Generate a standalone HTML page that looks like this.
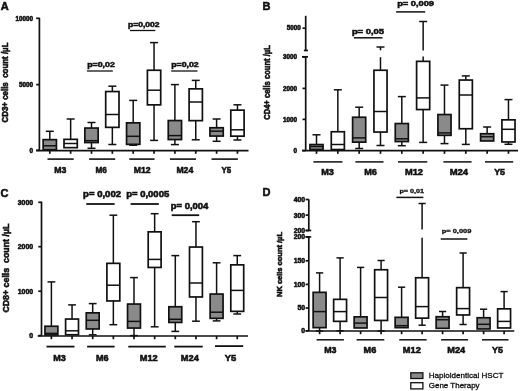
<!DOCTYPE html>
<html><head><meta charset="utf-8"><style>
html,body{margin:0;padding:0;background:#fff;width:520px;height:391px;overflow:hidden}
svg{display:block;will-change:transform}
text{font-family:"Liberation Sans",sans-serif}
text[font-weight=bold]{stroke:#111111;stroke-width:0.55px}
text[font-weight=normal]{stroke:#111111;stroke-width:0.3px}
</style></head><body>
<svg width="520" height="391" viewBox="0 0 520 391" shape-rendering="geometricPrecision">
<rect width="520" height="391" fill="#fff"/>
<line x1="39.40" y1="17.80" x2="39.40" y2="150.30" stroke="#111111" stroke-width="1.7"/>
<line x1="36.20" y1="18.30" x2="39.40" y2="18.30" stroke="#111111" stroke-width="1.7"/>
<text x="33.00" y="20.57" font-size="6.3" font-weight="bold" text-anchor="end" fill="#111111" xml:space="preserve">10000</text>
<line x1="36.20" y1="84.60" x2="39.40" y2="84.60" stroke="#111111" stroke-width="1.7"/>
<text x="33.00" y="86.87" font-size="6.3" font-weight="bold" text-anchor="end" fill="#111111" xml:space="preserve">5000</text>
<line x1="36.20" y1="150.30" x2="39.40" y2="150.30" stroke="#111111" stroke-width="1.7"/>
<text x="33.00" y="152.57" font-size="6.3" font-weight="bold" text-anchor="end" fill="#111111" xml:space="preserve">0</text>
<line x1="36.20" y1="150.60" x2="248.50" y2="150.60" stroke="#111111" stroke-width="1.7"/>
<line x1="49.80" y1="150.60" x2="49.80" y2="153.80" stroke="#111111" stroke-width="1.7"/>
<line x1="70.65" y1="150.60" x2="70.65" y2="153.80" stroke="#111111" stroke-width="1.7"/>
<line x1="91.50" y1="150.60" x2="91.50" y2="153.80" stroke="#111111" stroke-width="1.7"/>
<line x1="112.35" y1="150.60" x2="112.35" y2="153.80" stroke="#111111" stroke-width="1.7"/>
<line x1="133.20" y1="150.60" x2="133.20" y2="153.80" stroke="#111111" stroke-width="1.7"/>
<line x1="154.05" y1="150.60" x2="154.05" y2="153.80" stroke="#111111" stroke-width="1.7"/>
<line x1="174.90" y1="150.60" x2="174.90" y2="153.80" stroke="#111111" stroke-width="1.7"/>
<line x1="195.75" y1="150.60" x2="195.75" y2="153.80" stroke="#111111" stroke-width="1.7"/>
<line x1="216.60" y1="150.60" x2="216.60" y2="153.80" stroke="#111111" stroke-width="1.7"/>
<line x1="237.45" y1="150.60" x2="237.45" y2="153.80" stroke="#111111" stroke-width="1.7"/>
<line x1="49.80" y1="131.30" x2="49.80" y2="139.65" stroke="#111111" stroke-width="1.5"/>
<line x1="45.80" y1="131.30" x2="53.80" y2="131.30" stroke="#111111" stroke-width="1.5"/>
<rect x="43.15" y="139.65" width="13.30" height="10.10" fill="#8a8a8a" stroke="#111111" stroke-width="1.7"/>
<line x1="43.15" y1="145.80" x2="56.45" y2="145.80" stroke="#111111" stroke-width="1.5"/>
<line x1="70.65" y1="119.00" x2="70.65" y2="139.35" stroke="#111111" stroke-width="1.5"/>
<line x1="66.65" y1="119.00" x2="74.65" y2="119.00" stroke="#111111" stroke-width="1.5"/>
<rect x="64.00" y="139.35" width="13.30" height="8.30" fill="#ffffff" stroke="#111111" stroke-width="1.7"/>
<line x1="64.00" y1="143.50" x2="77.30" y2="143.50" stroke="#111111" stroke-width="1.5"/>
<line x1="91.50" y1="122.50" x2="91.50" y2="128.05" stroke="#111111" stroke-width="1.5"/>
<line x1="87.50" y1="122.50" x2="95.50" y2="122.50" stroke="#111111" stroke-width="1.5"/>
<line x1="91.50" y1="142.55" x2="91.50" y2="148.30" stroke="#111111" stroke-width="1.5"/>
<line x1="87.50" y1="148.30" x2="95.50" y2="148.30" stroke="#111111" stroke-width="1.5"/>
<rect x="84.85" y="128.05" width="13.30" height="14.50" fill="#8a8a8a" stroke="#111111" stroke-width="1.7"/>
<line x1="84.85" y1="140.70" x2="98.15" y2="140.70" stroke="#111111" stroke-width="1.5"/>
<line x1="112.35" y1="86.20" x2="112.35" y2="91.55" stroke="#111111" stroke-width="1.5"/>
<line x1="108.35" y1="86.20" x2="116.35" y2="86.20" stroke="#111111" stroke-width="1.5"/>
<line x1="112.35" y1="127.35" x2="112.35" y2="144.50" stroke="#111111" stroke-width="1.5"/>
<line x1="108.35" y1="144.50" x2="116.35" y2="144.50" stroke="#111111" stroke-width="1.5"/>
<rect x="105.70" y="91.55" width="13.30" height="35.80" fill="#ffffff" stroke="#111111" stroke-width="1.7"/>
<line x1="105.70" y1="114.50" x2="119.00" y2="114.50" stroke="#111111" stroke-width="1.5"/>
<line x1="133.20" y1="100.40" x2="133.20" y2="122.85" stroke="#111111" stroke-width="1.5"/>
<line x1="129.20" y1="100.40" x2="137.20" y2="100.40" stroke="#111111" stroke-width="1.5"/>
<line x1="133.20" y1="144.35" x2="133.20" y2="145.20" stroke="#111111" stroke-width="1.5"/>
<line x1="129.20" y1="145.20" x2="137.20" y2="145.20" stroke="#111111" stroke-width="1.5"/>
<rect x="126.55" y="122.85" width="13.30" height="21.50" fill="#8a8a8a" stroke="#111111" stroke-width="1.7"/>
<line x1="126.55" y1="136.30" x2="139.85" y2="136.30" stroke="#111111" stroke-width="1.5"/>
<line x1="154.05" y1="42.60" x2="154.05" y2="70.25" stroke="#111111" stroke-width="1.5"/>
<line x1="150.05" y1="42.60" x2="158.05" y2="42.60" stroke="#111111" stroke-width="1.5"/>
<line x1="154.05" y1="104.85" x2="154.05" y2="140.40" stroke="#111111" stroke-width="1.5"/>
<line x1="150.05" y1="140.40" x2="158.05" y2="140.40" stroke="#111111" stroke-width="1.5"/>
<rect x="147.40" y="70.25" width="13.30" height="34.60" fill="#ffffff" stroke="#111111" stroke-width="1.7"/>
<line x1="147.40" y1="90.20" x2="160.70" y2="90.20" stroke="#111111" stroke-width="1.5"/>
<line x1="174.90" y1="84.60" x2="174.90" y2="120.55" stroke="#111111" stroke-width="1.5"/>
<line x1="170.90" y1="84.60" x2="178.90" y2="84.60" stroke="#111111" stroke-width="1.5"/>
<line x1="174.90" y1="139.55" x2="174.90" y2="144.60" stroke="#111111" stroke-width="1.5"/>
<line x1="170.90" y1="144.60" x2="178.90" y2="144.60" stroke="#111111" stroke-width="1.5"/>
<rect x="168.25" y="120.55" width="13.30" height="19.00" fill="#8a8a8a" stroke="#111111" stroke-width="1.7"/>
<line x1="168.25" y1="135.60" x2="181.55" y2="135.60" stroke="#111111" stroke-width="1.5"/>
<line x1="195.75" y1="80.40" x2="195.75" y2="88.85" stroke="#111111" stroke-width="1.5"/>
<line x1="191.75" y1="80.40" x2="199.75" y2="80.40" stroke="#111111" stroke-width="1.5"/>
<line x1="195.75" y1="120.65" x2="195.75" y2="139.80" stroke="#111111" stroke-width="1.5"/>
<line x1="191.75" y1="139.80" x2="199.75" y2="139.80" stroke="#111111" stroke-width="1.5"/>
<rect x="189.10" y="88.85" width="13.30" height="31.80" fill="#ffffff" stroke="#111111" stroke-width="1.7"/>
<line x1="189.10" y1="102.00" x2="202.40" y2="102.00" stroke="#111111" stroke-width="1.5"/>
<line x1="216.60" y1="119.00" x2="216.60" y2="127.75" stroke="#111111" stroke-width="1.5"/>
<line x1="212.60" y1="119.00" x2="220.60" y2="119.00" stroke="#111111" stroke-width="1.5"/>
<line x1="216.60" y1="136.05" x2="216.60" y2="141.30" stroke="#111111" stroke-width="1.5"/>
<line x1="212.60" y1="141.30" x2="220.60" y2="141.30" stroke="#111111" stroke-width="1.5"/>
<rect x="209.95" y="127.75" width="13.30" height="8.30" fill="#8a8a8a" stroke="#111111" stroke-width="1.7"/>
<line x1="209.95" y1="131.20" x2="223.25" y2="131.20" stroke="#111111" stroke-width="1.5"/>
<line x1="237.45" y1="104.80" x2="237.45" y2="110.15" stroke="#111111" stroke-width="1.5"/>
<line x1="233.45" y1="104.80" x2="241.45" y2="104.80" stroke="#111111" stroke-width="1.5"/>
<line x1="237.45" y1="136.15" x2="237.45" y2="140.00" stroke="#111111" stroke-width="1.5"/>
<line x1="233.45" y1="140.00" x2="241.45" y2="140.00" stroke="#111111" stroke-width="1.5"/>
<rect x="230.80" y="110.15" width="13.30" height="26.00" fill="#ffffff" stroke="#111111" stroke-width="1.7"/>
<line x1="230.80" y1="129.80" x2="244.10" y2="129.80" stroke="#111111" stroke-width="1.5"/>
<line x1="47.50" y1="159.10" x2="73.70" y2="159.10" stroke="#111111" stroke-width="1.6"/>
<text x="60.20" y="172.80" font-size="8.8" font-weight="bold" text-anchor="middle" fill="#111111" textLength="12.10" lengthAdjust="spacingAndGlyphs" xml:space="preserve">M3</text>
<line x1="89.10" y1="159.10" x2="115.20" y2="159.10" stroke="#111111" stroke-width="1.6"/>
<text x="101.20" y="172.80" font-size="8.8" font-weight="bold" text-anchor="middle" fill="#111111" textLength="11.40" lengthAdjust="spacingAndGlyphs" xml:space="preserve">M6</text>
<line x1="129.30" y1="159.10" x2="154.60" y2="159.10" stroke="#111111" stroke-width="1.6"/>
<text x="142.20" y="172.80" font-size="8.8" font-weight="bold" text-anchor="middle" fill="#111111" textLength="16.80" lengthAdjust="spacingAndGlyphs" xml:space="preserve">M12</text>
<line x1="170.00" y1="159.10" x2="196.00" y2="159.10" stroke="#111111" stroke-width="1.6"/>
<text x="184.80" y="172.80" font-size="8.8" font-weight="bold" text-anchor="middle" fill="#111111" textLength="16.80" lengthAdjust="spacingAndGlyphs" xml:space="preserve">M24</text>
<line x1="211.50" y1="159.10" x2="237.90" y2="159.10" stroke="#111111" stroke-width="1.6"/>
<text x="226.40" y="172.80" font-size="8.8" font-weight="bold" text-anchor="middle" fill="#111111" textLength="9.70" lengthAdjust="spacingAndGlyphs" xml:space="preserve">Y5</text>
<text x="87.20" y="67.10" font-size="8" font-weight="bold" text-anchor="start" fill="#111111" textLength="27.60" lengthAdjust="spacingAndGlyphs" xml:space="preserve">p=0,02</text>
<line x1="87.00" y1="71.00" x2="112.80" y2="71.00" stroke="#111111" stroke-width="1.3"/>
<text x="128.00" y="26.50" font-size="8" font-weight="bold" text-anchor="start" fill="#111111" textLength="31.50" lengthAdjust="spacingAndGlyphs" xml:space="preserve">p=0,002</text>
<line x1="130.00" y1="30.50" x2="155.40" y2="30.50" stroke="#111111" stroke-width="1.3"/>
<text x="171.20" y="67.20" font-size="8" font-weight="bold" text-anchor="start" fill="#111111" textLength="27.50" lengthAdjust="spacingAndGlyphs" xml:space="preserve">p=0,02</text>
<line x1="171.20" y1="71.00" x2="197.50" y2="71.00" stroke="#111111" stroke-width="1.3"/>
<text x="0.70" y="9.90" font-size="11" font-weight="bold" text-anchor="start" fill="#111111" xml:space="preserve">A</text>
<text x="7.80" y="122.50" font-size="8.4" font-weight="bold" text-anchor="start" fill="#111111" textLength="80.00" lengthAdjust="spacingAndGlyphs" transform="rotate(-90 7.80 122.50)" xml:space="preserve">CD3+ cells  count /µL</text>
<line x1="305.70" y1="15.80" x2="305.70" y2="50.50" stroke="#111111" stroke-width="1.7"/>
<line x1="305.70" y1="56.80" x2="305.70" y2="150.60" stroke="#111111" stroke-width="1.7"/>
<line x1="302.50" y1="28.20" x2="305.70" y2="28.20" stroke="#111111" stroke-width="1.7"/>
<text x="300.80" y="30.47" font-size="6.3" font-weight="bold" text-anchor="end" fill="#111111" xml:space="preserve">5000</text>
<line x1="302.50" y1="57.00" x2="305.70" y2="57.00" stroke="#111111" stroke-width="1.7"/>
<text x="296.90" y="59.27" font-size="6.3" font-weight="bold" text-anchor="end" fill="#111111" xml:space="preserve">3000</text>
<line x1="302.50" y1="88.40" x2="305.70" y2="88.40" stroke="#111111" stroke-width="1.7"/>
<text x="296.90" y="90.67" font-size="6.3" font-weight="bold" text-anchor="end" fill="#111111" xml:space="preserve">2000</text>
<line x1="302.50" y1="119.40" x2="305.70" y2="119.40" stroke="#111111" stroke-width="1.7"/>
<text x="296.90" y="121.67" font-size="6.3" font-weight="bold" text-anchor="end" fill="#111111" xml:space="preserve">1000</text>
<line x1="302.50" y1="150.60" x2="305.70" y2="150.60" stroke="#111111" stroke-width="1.7"/>
<text x="296.90" y="152.87" font-size="6.3" font-weight="bold" text-anchor="end" fill="#111111" xml:space="preserve">0</text>
<line x1="303.90" y1="50.50" x2="308.00" y2="50.50" stroke="#111111" stroke-width="1.7"/>
<line x1="302.00" y1="56.80" x2="308.00" y2="56.80" stroke="#111111" stroke-width="1.7"/>
<line x1="302.00" y1="150.60" x2="518.00" y2="150.60" stroke="#111111" stroke-width="1.7"/>
<line x1="316.50" y1="150.60" x2="316.50" y2="153.80" stroke="#111111" stroke-width="1.7"/>
<line x1="337.83" y1="150.60" x2="337.83" y2="153.80" stroke="#111111" stroke-width="1.7"/>
<line x1="359.16" y1="150.60" x2="359.16" y2="153.80" stroke="#111111" stroke-width="1.7"/>
<line x1="380.49" y1="150.60" x2="380.49" y2="153.80" stroke="#111111" stroke-width="1.7"/>
<line x1="401.82" y1="150.60" x2="401.82" y2="153.80" stroke="#111111" stroke-width="1.7"/>
<line x1="423.15" y1="150.60" x2="423.15" y2="153.80" stroke="#111111" stroke-width="1.7"/>
<line x1="444.48" y1="150.60" x2="444.48" y2="153.80" stroke="#111111" stroke-width="1.7"/>
<line x1="465.81" y1="150.60" x2="465.81" y2="153.80" stroke="#111111" stroke-width="1.7"/>
<line x1="487.14" y1="150.60" x2="487.14" y2="153.80" stroke="#111111" stroke-width="1.7"/>
<line x1="508.47" y1="150.60" x2="508.47" y2="153.80" stroke="#111111" stroke-width="1.7"/>
<line x1="316.50" y1="134.80" x2="316.50" y2="144.55" stroke="#111111" stroke-width="1.5"/>
<line x1="312.50" y1="134.80" x2="320.50" y2="134.80" stroke="#111111" stroke-width="1.5"/>
<rect x="309.95" y="144.55" width="13.10" height="5.00" fill="#8a8a8a" stroke="#111111" stroke-width="1.7"/>
<line x1="309.95" y1="146.50" x2="323.05" y2="146.50" stroke="#111111" stroke-width="1.5"/>
<line x1="337.83" y1="89.80" x2="337.83" y2="131.75" stroke="#111111" stroke-width="1.5"/>
<line x1="333.83" y1="89.80" x2="341.83" y2="89.80" stroke="#111111" stroke-width="1.5"/>
<rect x="331.28" y="131.75" width="13.10" height="17.80" fill="#ffffff" stroke="#111111" stroke-width="1.7"/>
<line x1="331.28" y1="144.50" x2="344.38" y2="144.50" stroke="#111111" stroke-width="1.5"/>
<line x1="359.16" y1="107.20" x2="359.16" y2="117.25" stroke="#111111" stroke-width="1.5"/>
<line x1="355.16" y1="107.20" x2="363.16" y2="107.20" stroke="#111111" stroke-width="1.5"/>
<line x1="359.16" y1="142.15" x2="359.16" y2="148.50" stroke="#111111" stroke-width="1.5"/>
<line x1="355.16" y1="148.50" x2="363.16" y2="148.50" stroke="#111111" stroke-width="1.5"/>
<rect x="352.61" y="117.25" width="13.10" height="24.90" fill="#8a8a8a" stroke="#111111" stroke-width="1.7"/>
<line x1="352.61" y1="137.90" x2="365.71" y2="137.90" stroke="#111111" stroke-width="1.5"/>
<line x1="380.49" y1="47.00" x2="380.49" y2="50.30" stroke="#111111" stroke-width="1.5"/>
<line x1="380.49" y1="57.20" x2="380.49" y2="70.25" stroke="#111111" stroke-width="1.5"/>
<line x1="376.49" y1="47.00" x2="384.49" y2="47.00" stroke="#111111" stroke-width="1.5"/>
<line x1="380.49" y1="132.05" x2="380.49" y2="145.50" stroke="#111111" stroke-width="1.5"/>
<line x1="376.49" y1="145.50" x2="384.49" y2="145.50" stroke="#111111" stroke-width="1.5"/>
<rect x="373.94" y="70.25" width="13.10" height="61.80" fill="#ffffff" stroke="#111111" stroke-width="1.7"/>
<line x1="373.94" y1="111.50" x2="387.04" y2="111.50" stroke="#111111" stroke-width="1.5"/>
<line x1="401.82" y1="96.60" x2="401.82" y2="123.55" stroke="#111111" stroke-width="1.5"/>
<line x1="397.82" y1="96.60" x2="405.82" y2="96.60" stroke="#111111" stroke-width="1.5"/>
<line x1="401.82" y1="141.55" x2="401.82" y2="145.70" stroke="#111111" stroke-width="1.5"/>
<line x1="397.82" y1="145.70" x2="405.82" y2="145.70" stroke="#111111" stroke-width="1.5"/>
<rect x="395.27" y="123.55" width="13.10" height="18.00" fill="#8a8a8a" stroke="#111111" stroke-width="1.7"/>
<line x1="395.27" y1="138.80" x2="408.37" y2="138.80" stroke="#111111" stroke-width="1.5"/>
<line x1="423.15" y1="21.50" x2="423.15" y2="50.50" stroke="#111111" stroke-width="1.5"/>
<line x1="423.15" y1="56.50" x2="423.15" y2="61.35" stroke="#111111" stroke-width="1.5"/>
<line x1="419.15" y1="21.50" x2="427.15" y2="21.50" stroke="#111111" stroke-width="1.5"/>
<line x1="423.15" y1="109.55" x2="423.15" y2="142.40" stroke="#111111" stroke-width="1.5"/>
<line x1="419.15" y1="142.40" x2="427.15" y2="142.40" stroke="#111111" stroke-width="1.5"/>
<rect x="416.60" y="61.35" width="13.10" height="48.20" fill="#ffffff" stroke="#111111" stroke-width="1.7"/>
<line x1="416.60" y1="97.90" x2="429.70" y2="97.90" stroke="#111111" stroke-width="1.5"/>
<line x1="444.48" y1="85.10" x2="444.48" y2="114.55" stroke="#111111" stroke-width="1.5"/>
<line x1="440.48" y1="85.10" x2="448.48" y2="85.10" stroke="#111111" stroke-width="1.5"/>
<line x1="444.48" y1="135.35" x2="444.48" y2="143.60" stroke="#111111" stroke-width="1.5"/>
<line x1="440.48" y1="143.60" x2="448.48" y2="143.60" stroke="#111111" stroke-width="1.5"/>
<rect x="437.93" y="114.55" width="13.10" height="20.80" fill="#8a8a8a" stroke="#111111" stroke-width="1.7"/>
<line x1="437.93" y1="132.90" x2="451.03" y2="132.90" stroke="#111111" stroke-width="1.5"/>
<line x1="465.81" y1="75.90" x2="465.81" y2="80.05" stroke="#111111" stroke-width="1.5"/>
<line x1="461.81" y1="75.90" x2="469.81" y2="75.90" stroke="#111111" stroke-width="1.5"/>
<line x1="465.81" y1="128.75" x2="465.81" y2="144.40" stroke="#111111" stroke-width="1.5"/>
<line x1="461.81" y1="144.40" x2="469.81" y2="144.40" stroke="#111111" stroke-width="1.5"/>
<rect x="459.26" y="80.05" width="13.10" height="48.70" fill="#ffffff" stroke="#111111" stroke-width="1.7"/>
<line x1="459.26" y1="95.00" x2="472.36" y2="95.00" stroke="#111111" stroke-width="1.5"/>
<line x1="487.14" y1="127.00" x2="487.14" y2="133.75" stroke="#111111" stroke-width="1.5"/>
<line x1="483.14" y1="127.00" x2="491.14" y2="127.00" stroke="#111111" stroke-width="1.5"/>
<rect x="480.59" y="133.75" width="13.10" height="7.20" fill="#8a8a8a" stroke="#111111" stroke-width="1.7"/>
<line x1="480.59" y1="136.70" x2="493.69" y2="136.70" stroke="#111111" stroke-width="1.5"/>
<line x1="508.47" y1="99.60" x2="508.47" y2="119.85" stroke="#111111" stroke-width="1.5"/>
<line x1="504.47" y1="99.60" x2="512.47" y2="99.60" stroke="#111111" stroke-width="1.5"/>
<line x1="508.47" y1="141.95" x2="508.47" y2="144.30" stroke="#111111" stroke-width="1.5"/>
<line x1="504.47" y1="144.30" x2="512.47" y2="144.30" stroke="#111111" stroke-width="1.5"/>
<rect x="501.92" y="119.85" width="13.10" height="22.10" fill="#ffffff" stroke="#111111" stroke-width="1.7"/>
<line x1="501.92" y1="129.30" x2="515.02" y2="129.30" stroke="#111111" stroke-width="1.5"/>
<line x1="313.40" y1="161.90" x2="342.50" y2="161.90" stroke="#111111" stroke-width="1.5"/>
<text x="327.50" y="175.00" font-size="8.8" font-weight="bold" text-anchor="middle" fill="#111111" textLength="12.70" lengthAdjust="spacingAndGlyphs" xml:space="preserve">M3</text>
<line x1="355.40" y1="161.90" x2="383.50" y2="161.90" stroke="#111111" stroke-width="1.5"/>
<text x="370.50" y="175.00" font-size="8.8" font-weight="bold" text-anchor="middle" fill="#111111" textLength="12.70" lengthAdjust="spacingAndGlyphs" xml:space="preserve">M6</text>
<line x1="398.00" y1="161.90" x2="427.30" y2="161.90" stroke="#111111" stroke-width="1.5"/>
<text x="414.00" y="175.00" font-size="8.8" font-weight="bold" text-anchor="middle" fill="#111111" textLength="18.10" lengthAdjust="spacingAndGlyphs" xml:space="preserve">M12</text>
<line x1="443.40" y1="161.90" x2="471.60" y2="161.90" stroke="#111111" stroke-width="1.5"/>
<text x="458.90" y="175.00" font-size="8.8" font-weight="bold" text-anchor="middle" fill="#111111" textLength="18.40" lengthAdjust="spacingAndGlyphs" xml:space="preserve">M24</text>
<line x1="485.00" y1="161.90" x2="513.20" y2="161.90" stroke="#111111" stroke-width="1.5"/>
<text x="499.60" y="175.00" font-size="8.8" font-weight="bold" text-anchor="middle" fill="#111111" textLength="10.90" lengthAdjust="spacingAndGlyphs" xml:space="preserve">Y5</text>
<text x="351.90" y="33.90" font-size="8" font-weight="bold" text-anchor="start" fill="#111111" textLength="32.10" lengthAdjust="spacingAndGlyphs" xml:space="preserve">p= 0,05</text>
<line x1="353.90" y1="37.80" x2="382.50" y2="37.80" stroke="#111111" stroke-width="1.5"/>
<text x="397.20" y="6.10" font-size="8" font-weight="bold" text-anchor="start" fill="#111111" textLength="36.80" lengthAdjust="spacingAndGlyphs" xml:space="preserve">p= 0,009</text>
<line x1="396.10" y1="11.90" x2="425.20" y2="11.90" stroke="#111111" stroke-width="1.5"/>
<text x="262.40" y="9.90" font-size="11" font-weight="bold" text-anchor="start" fill="#111111" xml:space="preserve">B</text>
<text x="269.90" y="119.80" font-size="8.5" font-weight="bold" text-anchor="start" fill="#111111" textLength="74.60" lengthAdjust="spacingAndGlyphs" transform="rotate(-90 269.90 119.80)" xml:space="preserve">CD4+ cells count /µL</text>
<line x1="41.50" y1="201.60" x2="41.50" y2="335.60" stroke="#111111" stroke-width="1.7"/>
<line x1="38.30" y1="202.30" x2="41.50" y2="202.30" stroke="#111111" stroke-width="1.7"/>
<text x="33.10" y="204.78" font-size="6.9" font-weight="bold" text-anchor="end" fill="#111111" xml:space="preserve">3000</text>
<line x1="38.30" y1="246.70" x2="41.50" y2="246.70" stroke="#111111" stroke-width="1.7"/>
<text x="33.10" y="249.18" font-size="6.9" font-weight="bold" text-anchor="end" fill="#111111" xml:space="preserve">2000</text>
<line x1="38.30" y1="291.20" x2="41.50" y2="291.20" stroke="#111111" stroke-width="1.7"/>
<text x="33.10" y="293.68" font-size="6.9" font-weight="bold" text-anchor="end" fill="#111111" xml:space="preserve">1000</text>
<line x1="38.30" y1="335.60" x2="41.50" y2="335.60" stroke="#111111" stroke-width="1.7"/>
<text x="33.10" y="338.08" font-size="6.9" font-weight="bold" text-anchor="end" fill="#111111" xml:space="preserve">0</text>
<line x1="37.70" y1="336.00" x2="248.00" y2="336.00" stroke="#111111" stroke-width="1.7"/>
<line x1="51.40" y1="336.00" x2="51.40" y2="339.20" stroke="#111111" stroke-width="1.7"/>
<line x1="72.05" y1="336.00" x2="72.05" y2="339.20" stroke="#111111" stroke-width="1.7"/>
<line x1="92.70" y1="336.00" x2="92.70" y2="339.20" stroke="#111111" stroke-width="1.7"/>
<line x1="113.35" y1="336.00" x2="113.35" y2="339.20" stroke="#111111" stroke-width="1.7"/>
<line x1="134.00" y1="336.00" x2="134.00" y2="339.20" stroke="#111111" stroke-width="1.7"/>
<line x1="154.65" y1="336.00" x2="154.65" y2="339.20" stroke="#111111" stroke-width="1.7"/>
<line x1="175.30" y1="336.00" x2="175.30" y2="339.20" stroke="#111111" stroke-width="1.7"/>
<line x1="195.95" y1="336.00" x2="195.95" y2="339.20" stroke="#111111" stroke-width="1.7"/>
<line x1="216.60" y1="336.00" x2="216.60" y2="339.20" stroke="#111111" stroke-width="1.7"/>
<line x1="237.25" y1="336.00" x2="237.25" y2="339.20" stroke="#111111" stroke-width="1.7"/>
<line x1="51.40" y1="281.90" x2="51.40" y2="326.25" stroke="#111111" stroke-width="1.5"/>
<line x1="47.50" y1="281.90" x2="55.30" y2="281.90" stroke="#111111" stroke-width="1.5"/>
<rect x="44.95" y="326.25" width="12.90" height="8.70" fill="#8a8a8a" stroke="#111111" stroke-width="1.7"/>
<line x1="44.95" y1="333.40" x2="57.85" y2="333.40" stroke="#111111" stroke-width="1.5"/>
<line x1="72.05" y1="304.90" x2="72.05" y2="319.05" stroke="#111111" stroke-width="1.5"/>
<line x1="68.15" y1="304.90" x2="75.95" y2="304.90" stroke="#111111" stroke-width="1.5"/>
<rect x="65.60" y="319.05" width="12.90" height="15.70" fill="#ffffff" stroke="#111111" stroke-width="1.7"/>
<line x1="65.60" y1="330.80" x2="78.50" y2="330.80" stroke="#111111" stroke-width="1.5"/>
<line x1="92.70" y1="303.60" x2="92.70" y2="312.85" stroke="#111111" stroke-width="1.5"/>
<line x1="88.80" y1="303.60" x2="96.60" y2="303.60" stroke="#111111" stroke-width="1.5"/>
<line x1="92.70" y1="328.95" x2="92.70" y2="334.80" stroke="#111111" stroke-width="1.5"/>
<line x1="88.80" y1="334.80" x2="96.60" y2="334.80" stroke="#111111" stroke-width="1.5"/>
<rect x="86.25" y="312.85" width="12.90" height="16.10" fill="#8a8a8a" stroke="#111111" stroke-width="1.7"/>
<line x1="86.25" y1="320.30" x2="99.15" y2="320.30" stroke="#111111" stroke-width="1.5"/>
<line x1="113.35" y1="215.20" x2="113.35" y2="263.35" stroke="#111111" stroke-width="1.5"/>
<line x1="109.45" y1="215.20" x2="117.25" y2="215.20" stroke="#111111" stroke-width="1.5"/>
<line x1="113.35" y1="300.95" x2="113.35" y2="324.70" stroke="#111111" stroke-width="1.5"/>
<line x1="109.45" y1="324.70" x2="117.25" y2="324.70" stroke="#111111" stroke-width="1.5"/>
<rect x="106.90" y="263.35" width="12.90" height="37.60" fill="#ffffff" stroke="#111111" stroke-width="1.7"/>
<line x1="106.90" y1="285.20" x2="119.80" y2="285.20" stroke="#111111" stroke-width="1.5"/>
<line x1="134.00" y1="277.60" x2="134.00" y2="304.05" stroke="#111111" stroke-width="1.5"/>
<line x1="130.10" y1="277.60" x2="137.90" y2="277.60" stroke="#111111" stroke-width="1.5"/>
<line x1="134.00" y1="328.05" x2="134.00" y2="335.60" stroke="#111111" stroke-width="1.5"/>
<line x1="130.10" y1="335.60" x2="137.90" y2="335.60" stroke="#111111" stroke-width="1.5"/>
<rect x="127.55" y="304.05" width="12.90" height="24.00" fill="#8a8a8a" stroke="#111111" stroke-width="1.7"/>
<line x1="127.55" y1="321.40" x2="140.45" y2="321.40" stroke="#111111" stroke-width="1.5"/>
<line x1="154.65" y1="213.70" x2="154.65" y2="231.85" stroke="#111111" stroke-width="1.5"/>
<line x1="150.75" y1="213.70" x2="158.55" y2="213.70" stroke="#111111" stroke-width="1.5"/>
<line x1="154.65" y1="267.45" x2="154.65" y2="326.80" stroke="#111111" stroke-width="1.5"/>
<line x1="150.75" y1="326.80" x2="158.55" y2="326.80" stroke="#111111" stroke-width="1.5"/>
<rect x="148.20" y="231.85" width="12.90" height="35.60" fill="#ffffff" stroke="#111111" stroke-width="1.7"/>
<line x1="148.20" y1="259.40" x2="161.10" y2="259.40" stroke="#111111" stroke-width="1.5"/>
<line x1="175.30" y1="255.60" x2="175.30" y2="306.75" stroke="#111111" stroke-width="1.5"/>
<line x1="171.40" y1="255.60" x2="179.20" y2="255.60" stroke="#111111" stroke-width="1.5"/>
<line x1="175.30" y1="322.45" x2="175.30" y2="331.40" stroke="#111111" stroke-width="1.5"/>
<line x1="171.40" y1="331.40" x2="179.20" y2="331.40" stroke="#111111" stroke-width="1.5"/>
<rect x="168.85" y="306.75" width="12.90" height="15.70" fill="#8a8a8a" stroke="#111111" stroke-width="1.7"/>
<line x1="168.85" y1="319.30" x2="181.75" y2="319.30" stroke="#111111" stroke-width="1.5"/>
<line x1="195.95" y1="221.70" x2="195.95" y2="247.05" stroke="#111111" stroke-width="1.5"/>
<line x1="192.05" y1="221.70" x2="199.85" y2="221.70" stroke="#111111" stroke-width="1.5"/>
<line x1="195.95" y1="296.95" x2="195.95" y2="321.20" stroke="#111111" stroke-width="1.5"/>
<line x1="192.05" y1="321.20" x2="199.85" y2="321.20" stroke="#111111" stroke-width="1.5"/>
<rect x="189.50" y="247.05" width="12.90" height="49.90" fill="#ffffff" stroke="#111111" stroke-width="1.7"/>
<line x1="189.50" y1="283.00" x2="202.40" y2="283.00" stroke="#111111" stroke-width="1.5"/>
<line x1="216.60" y1="262.80" x2="216.60" y2="294.05" stroke="#111111" stroke-width="1.5"/>
<line x1="212.70" y1="262.80" x2="220.50" y2="262.80" stroke="#111111" stroke-width="1.5"/>
<line x1="216.60" y1="318.35" x2="216.60" y2="320.90" stroke="#111111" stroke-width="1.5"/>
<line x1="212.70" y1="320.90" x2="220.50" y2="320.90" stroke="#111111" stroke-width="1.5"/>
<rect x="210.15" y="294.05" width="12.90" height="24.30" fill="#8a8a8a" stroke="#111111" stroke-width="1.7"/>
<line x1="210.15" y1="312.20" x2="223.05" y2="312.20" stroke="#111111" stroke-width="1.5"/>
<line x1="237.25" y1="255.60" x2="237.25" y2="264.85" stroke="#111111" stroke-width="1.5"/>
<line x1="233.35" y1="255.60" x2="241.15" y2="255.60" stroke="#111111" stroke-width="1.5"/>
<line x1="237.25" y1="311.35" x2="237.25" y2="314.00" stroke="#111111" stroke-width="1.5"/>
<line x1="233.35" y1="314.00" x2="241.15" y2="314.00" stroke="#111111" stroke-width="1.5"/>
<rect x="230.80" y="264.85" width="12.90" height="46.50" fill="#ffffff" stroke="#111111" stroke-width="1.7"/>
<line x1="230.80" y1="290.40" x2="243.70" y2="290.40" stroke="#111111" stroke-width="1.5"/>
<line x1="46.50" y1="346.60" x2="74.50" y2="346.60" stroke="#111111" stroke-width="1.8"/>
<text x="59.60" y="361.20" font-size="8.8" font-weight="bold" text-anchor="middle" fill="#111111" textLength="12.60" lengthAdjust="spacingAndGlyphs" xml:space="preserve">M3</text>
<line x1="87.10" y1="346.60" x2="114.60" y2="346.60" stroke="#111111" stroke-width="1.8"/>
<text x="102.30" y="361.20" font-size="8.8" font-weight="bold" text-anchor="middle" fill="#111111" textLength="12.60" lengthAdjust="spacingAndGlyphs" xml:space="preserve">M6</text>
<line x1="128.30" y1="346.60" x2="165.80" y2="346.60" stroke="#111111" stroke-width="1.8"/>
<text x="148.70" y="361.20" font-size="8.8" font-weight="bold" text-anchor="middle" fill="#111111" textLength="18.00" lengthAdjust="spacingAndGlyphs" xml:space="preserve">M12</text>
<line x1="174.30" y1="346.60" x2="202.70" y2="346.60" stroke="#111111" stroke-width="1.8"/>
<text x="189.80" y="361.20" font-size="8.8" font-weight="bold" text-anchor="middle" fill="#111111" textLength="18.00" lengthAdjust="spacingAndGlyphs" xml:space="preserve">M24</text>
<line x1="215.00" y1="346.10" x2="243.20" y2="346.10" stroke="#111111" stroke-width="1.8"/>
<text x="230.50" y="361.20" font-size="8.8" font-weight="bold" text-anchor="middle" fill="#111111" textLength="11.50" lengthAdjust="spacingAndGlyphs" xml:space="preserve">Y5</text>
<text x="83.10" y="197.30" font-size="8.5" font-weight="bold" text-anchor="start" fill="#111111" textLength="37.90" lengthAdjust="spacingAndGlyphs" xml:space="preserve">p= 0,002</text>
<line x1="86.30" y1="204.00" x2="114.60" y2="204.00" stroke="#111111" stroke-width="1.8"/>
<text x="126.20" y="197.30" font-size="8.5" font-weight="bold" text-anchor="start" fill="#111111" textLength="43.00" lengthAdjust="spacingAndGlyphs" xml:space="preserve">p= 0,0005</text>
<line x1="130.60" y1="204.00" x2="158.80" y2="204.00" stroke="#111111" stroke-width="1.8"/>
<text x="170.80" y="209.40" font-size="8.5" font-weight="bold" text-anchor="start" fill="#111111" textLength="37.50" lengthAdjust="spacingAndGlyphs" xml:space="preserve">p= 0,004</text>
<line x1="171.70" y1="215.20" x2="199.20" y2="215.20" stroke="#111111" stroke-width="1.8"/>
<text x="0.40" y="196.60" font-size="11" font-weight="bold" text-anchor="start" fill="#111111" xml:space="preserve">C</text>
<text x="9.30" y="312.60" font-size="8.8" font-weight="bold" text-anchor="start" fill="#111111" textLength="89.00" lengthAdjust="spacingAndGlyphs" transform="rotate(-90 9.30 312.60)" xml:space="preserve">CD8+ cells  count /µL</text>
<line x1="308.80" y1="199.30" x2="308.80" y2="230.50" stroke="#111111" stroke-width="1.7"/>
<line x1="308.80" y1="236.90" x2="308.80" y2="330.80" stroke="#111111" stroke-width="1.7"/>
<line x1="305.60" y1="199.50" x2="308.80" y2="199.50" stroke="#111111" stroke-width="1.7"/>
<text x="305.00" y="201.95" font-size="6.8" font-weight="bold" text-anchor="end" fill="#111111" xml:space="preserve">400</text>
<line x1="305.60" y1="215.10" x2="308.80" y2="215.10" stroke="#111111" stroke-width="1.7"/>
<text x="305.00" y="217.55" font-size="6.8" font-weight="bold" text-anchor="end" fill="#111111" xml:space="preserve">300</text>
<line x1="305.60" y1="230.50" x2="308.80" y2="230.50" stroke="#111111" stroke-width="1.7"/>
<text x="305.00" y="232.95" font-size="6.8" font-weight="bold" text-anchor="end" fill="#111111" xml:space="preserve">200</text>
<line x1="305.60" y1="236.90" x2="308.80" y2="236.90" stroke="#111111" stroke-width="1.7"/>
<text x="305.00" y="239.35" font-size="6.8" font-weight="bold" text-anchor="end" fill="#111111" xml:space="preserve">200</text>
<line x1="305.60" y1="260.80" x2="308.80" y2="260.80" stroke="#111111" stroke-width="1.7"/>
<text x="305.00" y="263.25" font-size="6.8" font-weight="bold" text-anchor="end" fill="#111111" xml:space="preserve">150</text>
<line x1="305.60" y1="284.40" x2="308.80" y2="284.40" stroke="#111111" stroke-width="1.7"/>
<text x="305.00" y="286.85" font-size="6.8" font-weight="bold" text-anchor="end" fill="#111111" xml:space="preserve">100</text>
<line x1="305.60" y1="308.00" x2="308.80" y2="308.00" stroke="#111111" stroke-width="1.7"/>
<text x="305.00" y="310.45" font-size="6.8" font-weight="bold" text-anchor="end" fill="#111111" xml:space="preserve">50</text>
<line x1="305.60" y1="330.80" x2="308.80" y2="330.80" stroke="#111111" stroke-width="1.7"/>
<text x="305.00" y="333.25" font-size="6.8" font-weight="bold" text-anchor="end" fill="#111111" xml:space="preserve">0</text>
<line x1="305.60" y1="230.50" x2="311.20" y2="230.50" stroke="#111111" stroke-width="1.7"/>
<line x1="305.60" y1="236.90" x2="311.20" y2="236.90" stroke="#111111" stroke-width="1.7"/>
<line x1="305.50" y1="331.00" x2="514.30" y2="331.00" stroke="#111111" stroke-width="1.7"/>
<line x1="319.60" y1="331.00" x2="319.60" y2="334.20" stroke="#111111" stroke-width="1.7"/>
<line x1="340.10" y1="331.00" x2="340.10" y2="334.20" stroke="#111111" stroke-width="1.7"/>
<line x1="360.60" y1="331.00" x2="360.60" y2="334.20" stroke="#111111" stroke-width="1.7"/>
<line x1="381.10" y1="331.00" x2="381.10" y2="334.20" stroke="#111111" stroke-width="1.7"/>
<line x1="401.60" y1="331.00" x2="401.60" y2="334.20" stroke="#111111" stroke-width="1.7"/>
<line x1="422.10" y1="331.00" x2="422.10" y2="334.20" stroke="#111111" stroke-width="1.7"/>
<line x1="442.60" y1="331.00" x2="442.60" y2="334.20" stroke="#111111" stroke-width="1.7"/>
<line x1="463.10" y1="331.00" x2="463.10" y2="334.20" stroke="#111111" stroke-width="1.7"/>
<line x1="483.60" y1="331.00" x2="483.60" y2="334.20" stroke="#111111" stroke-width="1.7"/>
<line x1="504.10" y1="331.00" x2="504.10" y2="334.20" stroke="#111111" stroke-width="1.7"/>
<line x1="319.60" y1="272.90" x2="319.60" y2="292.35" stroke="#111111" stroke-width="1.5"/>
<line x1="316.00" y1="272.90" x2="323.20" y2="272.90" stroke="#111111" stroke-width="1.5"/>
<line x1="319.60" y1="327.65" x2="319.60" y2="331.00" stroke="#111111" stroke-width="1.5"/>
<line x1="316.00" y1="331.00" x2="323.20" y2="331.00" stroke="#111111" stroke-width="1.5"/>
<rect x="313.15" y="292.35" width="12.90" height="35.30" fill="#8a8a8a" stroke="#111111" stroke-width="1.7"/>
<line x1="313.15" y1="311.60" x2="326.05" y2="311.60" stroke="#111111" stroke-width="1.5"/>
<line x1="340.10" y1="257.90" x2="340.10" y2="299.35" stroke="#111111" stroke-width="1.5"/>
<line x1="336.50" y1="257.90" x2="343.70" y2="257.90" stroke="#111111" stroke-width="1.5"/>
<line x1="340.10" y1="321.35" x2="340.10" y2="330.80" stroke="#111111" stroke-width="1.5"/>
<line x1="336.50" y1="330.80" x2="343.70" y2="330.80" stroke="#111111" stroke-width="1.5"/>
<rect x="333.65" y="299.35" width="12.90" height="22.00" fill="#ffffff" stroke="#111111" stroke-width="1.7"/>
<line x1="333.65" y1="311.60" x2="346.55" y2="311.60" stroke="#111111" stroke-width="1.5"/>
<line x1="360.60" y1="267.40" x2="360.60" y2="316.85" stroke="#111111" stroke-width="1.5"/>
<line x1="357.00" y1="267.40" x2="364.20" y2="267.40" stroke="#111111" stroke-width="1.5"/>
<rect x="354.15" y="316.85" width="12.90" height="11.10" fill="#8a8a8a" stroke="#111111" stroke-width="1.7"/>
<line x1="354.15" y1="323.10" x2="367.05" y2="323.10" stroke="#111111" stroke-width="1.5"/>
<line x1="381.10" y1="260.50" x2="381.10" y2="269.75" stroke="#111111" stroke-width="1.5"/>
<line x1="377.50" y1="260.50" x2="384.70" y2="260.50" stroke="#111111" stroke-width="1.5"/>
<line x1="381.10" y1="320.45" x2="381.10" y2="331.00" stroke="#111111" stroke-width="1.5"/>
<line x1="377.50" y1="331.00" x2="384.70" y2="331.00" stroke="#111111" stroke-width="1.5"/>
<rect x="374.65" y="269.75" width="12.90" height="50.70" fill="#ffffff" stroke="#111111" stroke-width="1.7"/>
<line x1="374.65" y1="297.50" x2="387.55" y2="297.50" stroke="#111111" stroke-width="1.5"/>
<line x1="401.60" y1="287.20" x2="401.60" y2="317.35" stroke="#111111" stroke-width="1.5"/>
<line x1="398.00" y1="287.20" x2="405.20" y2="287.20" stroke="#111111" stroke-width="1.5"/>
<rect x="395.15" y="317.35" width="12.90" height="10.30" fill="#8a8a8a" stroke="#111111" stroke-width="1.7"/>
<line x1="395.15" y1="325.70" x2="408.05" y2="325.70" stroke="#111111" stroke-width="1.5"/>
<line x1="422.10" y1="203.50" x2="422.10" y2="229.50" stroke="#111111" stroke-width="1.5"/>
<line x1="422.10" y1="237.70" x2="422.10" y2="277.75" stroke="#111111" stroke-width="1.5"/>
<line x1="418.50" y1="203.50" x2="425.70" y2="203.50" stroke="#111111" stroke-width="1.5"/>
<line x1="422.10" y1="318.15" x2="422.10" y2="325.20" stroke="#111111" stroke-width="1.5"/>
<line x1="418.50" y1="325.20" x2="425.70" y2="325.20" stroke="#111111" stroke-width="1.5"/>
<rect x="415.65" y="277.75" width="12.90" height="40.40" fill="#ffffff" stroke="#111111" stroke-width="1.7"/>
<line x1="415.65" y1="306.60" x2="428.55" y2="306.60" stroke="#111111" stroke-width="1.5"/>
<line x1="442.60" y1="311.50" x2="442.60" y2="316.75" stroke="#111111" stroke-width="1.5"/>
<line x1="439.00" y1="311.50" x2="446.20" y2="311.50" stroke="#111111" stroke-width="1.5"/>
<rect x="436.15" y="316.75" width="12.90" height="11.60" fill="#8a8a8a" stroke="#111111" stroke-width="1.7"/>
<line x1="436.15" y1="319.70" x2="449.05" y2="319.70" stroke="#111111" stroke-width="1.5"/>
<line x1="463.10" y1="253.00" x2="463.10" y2="287.65" stroke="#111111" stroke-width="1.5"/>
<line x1="459.50" y1="253.00" x2="466.70" y2="253.00" stroke="#111111" stroke-width="1.5"/>
<line x1="463.10" y1="314.95" x2="463.10" y2="324.50" stroke="#111111" stroke-width="1.5"/>
<line x1="459.50" y1="324.50" x2="466.70" y2="324.50" stroke="#111111" stroke-width="1.5"/>
<rect x="456.65" y="287.65" width="12.90" height="27.30" fill="#ffffff" stroke="#111111" stroke-width="1.7"/>
<line x1="456.65" y1="308.60" x2="469.55" y2="308.60" stroke="#111111" stroke-width="1.5"/>
<line x1="483.60" y1="309.20" x2="483.60" y2="317.75" stroke="#111111" stroke-width="1.5"/>
<line x1="480.00" y1="309.20" x2="487.20" y2="309.20" stroke="#111111" stroke-width="1.5"/>
<rect x="477.15" y="317.75" width="12.90" height="11.20" fill="#8a8a8a" stroke="#111111" stroke-width="1.7"/>
<line x1="477.15" y1="324.30" x2="490.05" y2="324.30" stroke="#111111" stroke-width="1.5"/>
<line x1="504.10" y1="291.60" x2="504.10" y2="308.85" stroke="#111111" stroke-width="1.5"/>
<line x1="500.50" y1="291.60" x2="507.70" y2="291.60" stroke="#111111" stroke-width="1.5"/>
<rect x="497.65" y="308.85" width="12.90" height="19.10" fill="#ffffff" stroke="#111111" stroke-width="1.7"/>
<line x1="497.65" y1="321.40" x2="510.55" y2="321.40" stroke="#111111" stroke-width="1.5"/>
<line x1="316.60" y1="339.80" x2="343.90" y2="339.80" stroke="#111111" stroke-width="1.5"/>
<text x="330.40" y="352.60" font-size="8.8" font-weight="bold" text-anchor="middle" fill="#111111" textLength="12.30" lengthAdjust="spacingAndGlyphs" xml:space="preserve">M3</text>
<line x1="356.60" y1="339.80" x2="384.30" y2="339.80" stroke="#111111" stroke-width="1.5"/>
<text x="369.90" y="352.60" font-size="8.8" font-weight="bold" text-anchor="middle" fill="#111111" textLength="12.70" lengthAdjust="spacingAndGlyphs" xml:space="preserve">M6</text>
<line x1="399.30" y1="339.80" x2="426.60" y2="339.80" stroke="#111111" stroke-width="1.5"/>
<text x="411.80" y="352.60" font-size="8.8" font-weight="bold" text-anchor="middle" fill="#111111" textLength="18.00" lengthAdjust="spacingAndGlyphs" xml:space="preserve">M12</text>
<line x1="441.10" y1="339.80" x2="468.10" y2="339.80" stroke="#111111" stroke-width="1.5"/>
<text x="456.20" y="352.60" font-size="8.8" font-weight="bold" text-anchor="middle" fill="#111111" textLength="17.80" lengthAdjust="spacingAndGlyphs" xml:space="preserve">M24</text>
<line x1="482.00" y1="339.80" x2="508.50" y2="339.80" stroke="#111111" stroke-width="1.5"/>
<text x="497.40" y="352.60" font-size="8.8" font-weight="bold" text-anchor="middle" fill="#111111" textLength="10.90" lengthAdjust="spacingAndGlyphs" xml:space="preserve">Y5</text>
<text x="399.40" y="192.60" font-size="5.8" font-weight="bold" text-anchor="start" fill="#111111" textLength="24.60" lengthAdjust="spacingAndGlyphs" style="stroke-width:0.3px" xml:space="preserve">p= 0,01</text>
<line x1="396.40" y1="197.40" x2="423.40" y2="197.40" stroke="#111111" stroke-width="1.5"/>
<text x="441.70" y="232.70" font-size="5.8" font-weight="bold" text-anchor="start" fill="#111111" textLength="29.70" lengthAdjust="spacingAndGlyphs" style="stroke-width:0.3px" xml:space="preserve">p= 0,009</text>
<line x1="440.70" y1="239.00" x2="467.40" y2="239.00" stroke="#111111" stroke-width="1.5"/>
<text x="262.40" y="195.90" font-size="11" font-weight="bold" text-anchor="start" fill="#111111" xml:space="preserve">D</text>
<text x="282.30" y="297.00" font-size="6.8" font-weight="bold" text-anchor="start" fill="#111111" textLength="65.00" lengthAdjust="spacingAndGlyphs" transform="rotate(-90 282.30 297.00)" xml:space="preserve">NK cells count /µL</text>
<rect x="410.8" y="372.8" width="12.1" height="5.7" fill="#8a8a8a" stroke="#111111" stroke-width="1.3"/>
<rect x="410.8" y="382.7" width="12.1" height="6.2" fill="#fff" stroke="#111111" stroke-width="1.3"/>
<text x="428.80" y="378.20" font-size="7.6" font-weight="normal" text-anchor="start" fill="#111111" textLength="74.60" lengthAdjust="spacingAndGlyphs" xml:space="preserve">Haploidentical HSCT</text>
<text x="428.80" y="388.20" font-size="7.6" font-weight="normal" text-anchor="start" fill="#111111" textLength="50.80" lengthAdjust="spacingAndGlyphs" xml:space="preserve">Gene Therapy</text>
</svg>
</body></html>
